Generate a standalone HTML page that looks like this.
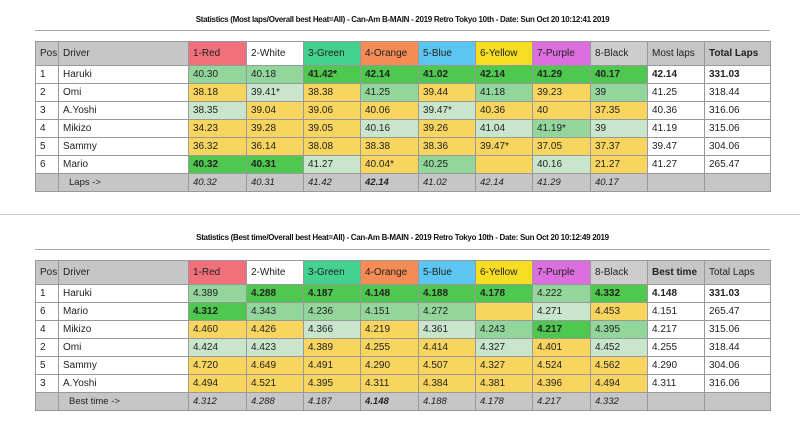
<!DOCTYPE html>
<html><head><meta charset="utf-8"><style>
body{margin:0;width:800px;height:432px;background:#fff;position:relative;overflow:hidden;font-family:"Liberation Sans",sans-serif;}
.title{position:absolute;left:35px;width:735px;text-align:center;font-size:8px;font-weight:bold;letter-spacing:-0.3px;color:#111}
.rule{position:absolute;left:35px;width:735px;height:1px;background:#aaa}
table{position:absolute;left:35px;border-collapse:collapse;table-layout:fixed;font-size:10px;color:#222}
td{border:1px solid #999;padding:0 0 0 4px;white-space:nowrap;overflow:hidden;height:17px;}
tr.h td{height:23px;background:#c6c6c6}
tr.f td{background:#c6c6c6;font-style:italic;font-size:9.5px}
.r{background:#f0707c!important}.w{background:#fff!important}.gr{background:#44d08e!important}.o{background:#f58b55!important}
.b{background:#5cc6f2!important}.yl{background:#f8de22!important}.p{background:#dd6ee0!important}.k{background:#cdcdcd!important}
.Y{background:#f8d55e}.L{background:#c9e5cc}.M{background:#92d69b}.G{background:#4fc84f;font-weight:bold}
</style></head><body>
<div class="title" style="top:15px">Statistics (Most laps/Overall best Heat=All) - Can-Am B-MAIN - 2019 Retro Tokyo 10th - Date: Sun Oct 20 10:12:41 2019</div>
<div class="rule" style="top:30px"></div>
<table style="top:41px">
<colgroup><col style="width:23px"><col style="width:130px"><col style="width:58px"><col style="width:57px"><col style="width:57px"><col style="width:58px"><col style="width:57px"><col style="width:57px"><col style="width:58px"><col style="width:57px"><col style="width:57px"><col style="width:66px"></colgroup>
<tr class="h"><td>Pos</td><td>Driver</td><td class="r">1-Red</td><td class="w">2-White</td><td class="gr">3-Green</td><td class="o">4-Orange</td><td class="b">5-Blue</td><td class="yl">6-Yellow</td><td class="p">7-Purple</td><td class="k">8-Black</td><td>Most laps</td><td style="font-weight:bold">Total Laps</td></tr>
<tr><td>1</td><td>Haruki</td><td class="M">40.30</td><td class="M">40.18</td><td class="G">41.42*</td><td class="G">42.14</td><td class="G">41.02</td><td class="G">42.14</td><td class="G">41.29</td><td class="G">40.17</td><td style="font-weight:bold">42.14</td><td style="font-weight:bold">331.03</td></tr>
<tr><td>2</td><td>Omi</td><td class="Y">38.18</td><td class="L">39.41*</td><td class="Y">38.38</td><td class="M">41.25</td><td class="Y">39.44</td><td class="M">41.18</td><td class="Y">39.23</td><td class="M">39</td><td>41.25</td><td>318.44</td></tr>
<tr><td>3</td><td>A.Yoshi</td><td class="L">38.35</td><td class="Y">39.04</td><td class="Y">39.06</td><td class="Y">40.06</td><td class="L">39.47*</td><td class="Y">40.36</td><td class="Y">40</td><td class="Y">37.35</td><td>40.36</td><td>316.06</td></tr>
<tr><td>4</td><td>Mikizo</td><td class="Y">34.23</td><td class="Y">39.28</td><td class="Y">39.05</td><td class="L">40.16</td><td class="Y">39.26</td><td class="L">41.04</td><td class="M">41.19*</td><td class="L">39</td><td>41.19</td><td>315.06</td></tr>
<tr><td>5</td><td>Sammy</td><td class="Y">36.32</td><td class="Y">36.14</td><td class="Y">38.08</td><td class="Y">38.38</td><td class="Y">38.36</td><td class="Y">39.47*</td><td class="Y">37.05</td><td class="Y">37.37</td><td>39.47</td><td>304.06</td></tr>
<tr><td>6</td><td>Mario</td><td class="G">40.32</td><td class="G">40.31</td><td class="L">41.27</td><td class="Y">40.04*</td><td class="M">40.25</td><td class="Y"></td><td class="L">40.16</td><td class="Y">21.27</td><td>41.27</td><td>265.47</td></tr>
<tr class="f"><td></td><td style="padding-left:10px;font-style:normal">Laps -&gt;</td><td>40.32</td><td>40.31</td><td>41.42</td><td style="font-weight:bold">42.14</td><td>41.02</td><td>42.14</td><td>41.29</td><td>40.17</td><td></td><td></td></tr>
</table>
<div style="position:absolute;left:0;top:214px;width:800px;height:1px;background:#ccc"></div>
<div class="title" style="top:233px">Statistics (Best time/Overall best Heat=All) - Can-Am B-MAIN - 2019 Retro Tokyo 10th - Date: Sun Oct 20 10:12:49 2019</div>
<div class="rule" style="top:249px"></div>
<table style="top:260px">
<colgroup><col style="width:23px"><col style="width:130px"><col style="width:58px"><col style="width:57px"><col style="width:57px"><col style="width:58px"><col style="width:57px"><col style="width:57px"><col style="width:58px"><col style="width:57px"><col style="width:57px"><col style="width:66px"></colgroup>
<tr class="h"><td>Pos</td><td>Driver</td><td class="r">1-Red</td><td class="w">2-White</td><td class="gr">3-Green</td><td class="o">4-Orange</td><td class="b">5-Blue</td><td class="yl">6-Yellow</td><td class="p">7-Purple</td><td class="k">8-Black</td><td style="font-weight:bold">Best time</td><td>Total Laps</td></tr>
<tr><td>1</td><td>Haruki</td><td class="M">4.389</td><td class="G">4.288</td><td class="G">4.187</td><td class="G">4.148</td><td class="G">4.188</td><td class="G">4.178</td><td class="M">4.222</td><td class="G">4.332</td><td style="font-weight:bold">4.148</td><td style="font-weight:bold">331.03</td></tr>
<tr><td>6</td><td>Mario</td><td class="G">4.312</td><td class="M">4.343</td><td class="M">4.236</td><td class="M">4.151</td><td class="M">4.272</td><td class="Y"></td><td class="L">4.271</td><td class="Y">4.453</td><td>4.151</td><td>265.47</td></tr>
<tr><td>4</td><td>Mikizo</td><td class="Y">4.460</td><td class="Y">4.426</td><td class="L">4.366</td><td class="Y">4.219</td><td class="L">4.361</td><td class="M">4.243</td><td class="G">4.217</td><td class="M">4.395</td><td>4.217</td><td>315.06</td></tr>
<tr><td>2</td><td>Omi</td><td class="L">4.424</td><td class="L">4.423</td><td class="Y">4.389</td><td class="Y">4.255</td><td class="Y">4.414</td><td class="L">4.327</td><td class="Y">4.401</td><td class="L">4.452</td><td>4.255</td><td>318.44</td></tr>
<tr><td>5</td><td>Sammy</td><td class="Y">4.720</td><td class="Y">4.649</td><td class="Y">4.491</td><td class="Y">4.290</td><td class="Y">4.507</td><td class="Y">4.327</td><td class="Y">4.524</td><td class="Y">4.562</td><td>4.290</td><td>304.06</td></tr>
<tr><td>3</td><td>A.Yoshi</td><td class="Y">4.494</td><td class="Y">4.521</td><td class="Y">4.395</td><td class="Y">4.311</td><td class="Y">4.384</td><td class="Y">4.381</td><td class="Y">4.396</td><td class="Y">4.494</td><td>4.311</td><td>316.06</td></tr>
<tr class="f"><td></td><td style="padding-left:10px;font-style:normal">Best time -&gt;</td><td>4.312</td><td>4.288</td><td>4.187</td><td style="font-weight:bold">4.148</td><td>4.188</td><td>4.178</td><td>4.217</td><td>4.332</td><td></td><td></td></tr>
</table>
</body></html>
